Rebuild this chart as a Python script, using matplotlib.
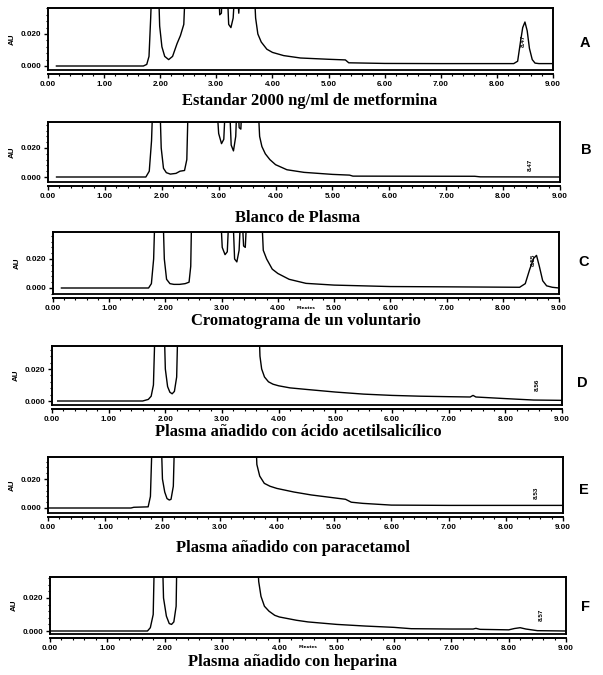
import matplotlib
matplotlib.use("Agg")
import matplotlib.pyplot as plt
from matplotlib.ticker import FixedLocator, MultipleLocator

# ---------------- data ----------------
titles = [
    "Estandar 2000 ng/ml de metformina",
    "Blanco de Plasma",
    "Cromatograma de un voluntario",
    "Plasma añadido con ácido acetilsalicílico",
    "Plasma añadido con paracetamol",
    "Plasma añadido con heparina",
]
letters = ["A", "B", "C", "D", "E", "F"]
x_ticks = [0, 1, 2, 3, 4, 5, 6, 7, 8, 9]
x_tick_labels = ["0.00", "1.00", "2.00", "3.00", "4.00", "5.00", "6.00", "7.00", "8.00", "9.00"]
y_ticks = [0.0, 0.020]
y_tick_labels = ["0.000", "0.020"]
y_label = "AU"
x_label = "Minutes"

# retention time (min) / absorbance (AU); values above the frame are off-scale
time_A = [0.15, 1.70, 1.76, 1.80, 1.83, 1.86, 1.96, 1.99, 2.03, 2.08, 2.15, 2.22, 2.30, 2.36, 2.42, 2.46,
          3.03, 3.06, 3.09, 3.12, 3.18, 3.22, 3.26, 3.30, 3.35, 3.40, 3.44, 3.50, 3.66, 3.70, 3.74, 3.80,
          3.90, 4.00, 4.20, 4.50, 5.00, 5.30, 5.36, 6.00, 7.00, 8.30, 8.37, 8.42, 8.46, 8.50, 8.54, 8.58,
          8.63, 8.68, 8.75, 9.00]
au_A = [0.0000, 0.0000, 0.0010, 0.0060, 0.0300, 0.0600, 0.0600, 0.0250, 0.0120, 0.0060, 0.0040, 0.0060,
        0.0140, 0.0190, 0.0260, 0.0600, 0.0600, 0.0320, 0.0330, 0.0600, 0.0600, 0.0260, 0.0240, 0.0300,
        0.0600, 0.0330, 0.0600, 0.0600, 0.0600, 0.0300, 0.0200, 0.0150, 0.0105, 0.0085, 0.0065, 0.0050,
        0.0042, 0.0038, 0.0020, 0.0016, 0.0015, 0.0015, 0.0030, 0.0150, 0.0240, 0.0275, 0.0220, 0.0110,
        0.0040, 0.0018, 0.0015, 0.0015]

time_B = [0.15, 1.72, 1.78, 1.82, 1.85, 1.96, 1.99, 2.03, 2.08, 2.15, 2.25, 2.32, 2.40, 2.44, 2.47,
          2.95, 3.00, 3.05, 3.09, 3.13, 3.18, 3.22, 3.26, 3.30, 3.33, 3.36, 3.39, 3.42, 3.68, 3.72, 3.76,
          3.82, 3.90, 4.00, 4.20, 4.50, 5.00, 5.30, 5.36, 7.50, 7.60, 9.00]
au_B = [0.0000, 0.0000, 0.0040, 0.0250, 0.0600, 0.0600, 0.0200, 0.0060, 0.0030, 0.0020, 0.0025, 0.0040,
        0.0045, 0.0120, 0.0600, 0.0600, 0.0300, 0.0230, 0.0260, 0.0600, 0.0600, 0.0220, 0.0180, 0.0280,
        0.0600, 0.0340, 0.0330, 0.0600, 0.0600, 0.0280, 0.0210, 0.0160, 0.0120, 0.0085, 0.0050, 0.0032,
        0.0018, 0.0013, 0.0006, 0.0005, 0.0001, 0.0000]

time_C = [0.15, 1.70, 1.75, 1.79, 1.82, 1.95, 1.98, 2.02, 2.08, 2.15, 2.25, 2.35, 2.42, 2.45, 2.47,
          2.97, 3.01, 3.06, 3.10, 3.14, 3.19, 3.23, 3.27, 3.31, 3.35, 3.39, 3.42, 3.46, 3.70, 3.74, 3.80,
          3.90, 4.00, 4.20, 4.50, 5.00, 5.50, 6.00, 7.00, 8.30, 8.40, 8.48, 8.55, 8.60, 8.65, 8.71, 8.78,
          8.88, 9.00]
au_C = [0.0000, 0.0000, 0.0030, 0.0200, 0.0600, 0.0600, 0.0200, 0.0060, 0.0030, 0.0025, 0.0025, 0.0030,
        0.0040, 0.0150, 0.0600, 0.0600, 0.0280, 0.0230, 0.0250, 0.0600, 0.0600, 0.0200, 0.0180, 0.0260,
        0.0600, 0.0290, 0.0280, 0.0600, 0.0600, 0.0260, 0.0200, 0.0130, 0.0100, 0.0060, 0.0032, 0.0020,
        0.0015, 0.0010, 0.0008, 0.0005, 0.0030, 0.0130, 0.0205, 0.0225, 0.0150, 0.0050, 0.0015, 0.0005,
        0.0000]

time_D = [0.10, 1.60, 1.70, 1.75, 1.79, 1.83, 1.97, 2.00, 2.04, 2.08, 2.12, 2.16, 2.20, 2.23,
          3.64, 3.67, 3.70, 3.75, 3.82, 3.90, 4.00, 4.20, 4.50, 5.00, 5.50, 6.00, 6.50, 7.00, 7.38, 7.43,
          7.48, 8.00, 8.50, 9.00]
au_D = [0.0000, 0.0000, 0.0010, 0.0030, 0.0100, 0.0600, 0.0600, 0.0200, 0.0090, 0.0055, 0.0045, 0.0060,
        0.0150, 0.0600, 0.0600, 0.0280, 0.0200, 0.0150, 0.0120, 0.0105, 0.0095, 0.0082, 0.0072, 0.0056,
        0.0043, 0.0035, 0.0030, 0.0027, 0.0025, 0.0035, 0.0025, 0.0015, 0.0006, 0.0004]

time_E = [0.00, 1.45, 1.50, 1.75, 1.79, 1.83, 1.97, 2.00, 2.04, 2.08, 2.12, 2.15, 2.19, 2.22,
          3.62, 3.65, 3.70, 3.78, 3.88, 4.00, 4.30, 4.60, 5.00, 5.20, 5.30, 5.50, 6.00, 7.00, 8.00, 9.00]
au_E = [0.0000, 0.0000, 0.0005, 0.0008, 0.0080, 0.0600, 0.0600, 0.0200, 0.0110, 0.0065, 0.0055, 0.0060,
        0.0150, 0.0600, 0.0600, 0.0300, 0.0220, 0.0170, 0.0150, 0.0135, 0.0110, 0.0090, 0.0070, 0.0060,
        0.0040, 0.0032, 0.0020, 0.0018, 0.0018, 0.0018]

time_F = [0.00, 1.70, 1.75, 1.80, 1.83, 1.95, 1.98, 2.03, 2.08, 2.12, 2.16, 2.20, 2.22,
          3.60, 3.64, 3.68, 3.74, 3.82, 3.92, 4.00, 4.30, 4.50, 5.00, 5.50, 6.00, 6.30, 7.00, 7.38, 7.43,
          7.50, 8.00, 8.10, 8.20, 8.30, 8.50, 9.00]
au_F = [0.0000, 0.0000, 0.0020, 0.0100, 0.0600, 0.0600, 0.0200, 0.0090, 0.0045, 0.0040, 0.0055, 0.0150,
        0.0600, 0.0600, 0.0300, 0.0210, 0.0150, 0.0120, 0.0095, 0.0085, 0.0065, 0.0055, 0.0040, 0.0030,
        0.0022, 0.0014, 0.0012, 0.0012, 0.0016, 0.0010, 0.0007, 0.0015, 0.0020, 0.0012, 0.0002, 0.0000]

times = [time_A, time_B, time_C, time_D, time_E, time_F]
values = [au_A, au_B, au_C, au_D, au_E, au_F]

# small peak-label marks (retention time, height)
mark_time = [8.47, 8.47, 8.55, 8.56, 8.53, 8.57]
mark_au = [0.012, 0.004, 0.015, 0.006, 0.006, 0.006]
mark_text = ["8.47", "8.47", "8.55", "8.56", "8.53", "8.57"]

# ---------------- layout ----------------
W, H = 603, 675
# pixel boxes: left, right, top, bottom
boxes = [
    (48, 553, 8, 70),
    (48, 560, 122, 182),
    (53, 559, 232, 294),
    (52, 562, 346, 405),
    (48, 563, 457, 513),
    (50, 566, 577, 634),
]
# y-axis pixel rows for 0.000 and 0.020
yrows = [(66, 34), (177, 148), (288, 259), (401, 369), (508, 479), (631, 598)]
title_y = [101, 218, 321, 432, 548, 662]
title_x = [310, 298, 306, 298, 293, 293]
letter_pos = [(585, 43), (586, 150), (584, 262), (582, 383), (584, 490), (586, 607)]
show_minutes = [False, False, True, False, False, True]

fig = plt.figure(figsize=(W / 100, H / 100), dpi=100)
fig.patch.set_facecolor("white")

for i in range(6):
    L, R, T, B = boxes[i]
    ax = fig.add_axes([L / W, 1 - B / H, (R - L) / W, (B - T) / H])
    r0, r2 = yrows[i]
    per = (r0 - r2) / 0.020
    ymin = -(B - r0) / per
    ymax = 0.020 + (r2 - T) / per
    ax.set_xlim(0, 9)
    ax.set_ylim(ymin, ymax)
    ax.plot(times[i], values[i], color="black", lw=1.0)
    for s in ax.spines.values():
        s.set_linewidth(1.4)
    ax.spines["bottom"].set_position(("outward", 3))
    ax.axhline(ymin, color="black", lw=1.3, clip_on=False)
    ax.xaxis.set_major_locator(FixedLocator(x_ticks))
    ax.set_xticklabels(x_tick_labels)
    ax.xaxis.set_minor_locator(MultipleLocator(0.2))
    ax.yaxis.set_major_locator(FixedLocator(y_ticks))
    ax.set_yticklabels(y_tick_labels)
    ax.yaxis.set_minor_locator(MultipleLocator(0.004))
    ax.tick_params(axis="both", which="major", length=3, width=1.0, labelsize=5.8, pad=2)
    ax.tick_params(axis="both", which="minor", length=1.5, width=0.8)
    for lab in ax.get_xticklabels() + ax.get_yticklabels():
        lab.set_fontweight("bold")
        lab.set_family("Liberation Sans")
    ax.set_ylabel(y_label, fontsize=5.8, fontweight="bold", labelpad=3, family="Liberation Sans")
    ax.text(mark_time[i], mark_au[i], mark_text[i], rotation=90, fontsize=4.5, fontweight="bold",
            ha="center", va="bottom", family="Liberation Sans")
    if show_minutes[i]:
        ax.text(4.5, -0.19, x_label, transform=ax.get_xaxis_transform(), fontsize=3,
                fontweight="bold", ha="center", va="top")
    fig.text(title_x[i] / W, 1 - title_y[i] / H, titles[i], fontsize=12, fontweight="bold",
             family="Liberation Serif", ha="center", va="center")
    lx, ly = letter_pos[i]
    fig.text(lx / W, 1 - ly / H, letters[i], fontsize=10.5, fontweight="bold",
             family="Liberation Sans", ha="center", va="center")

fig.savefig("out.png", dpi=100, facecolor="white")
